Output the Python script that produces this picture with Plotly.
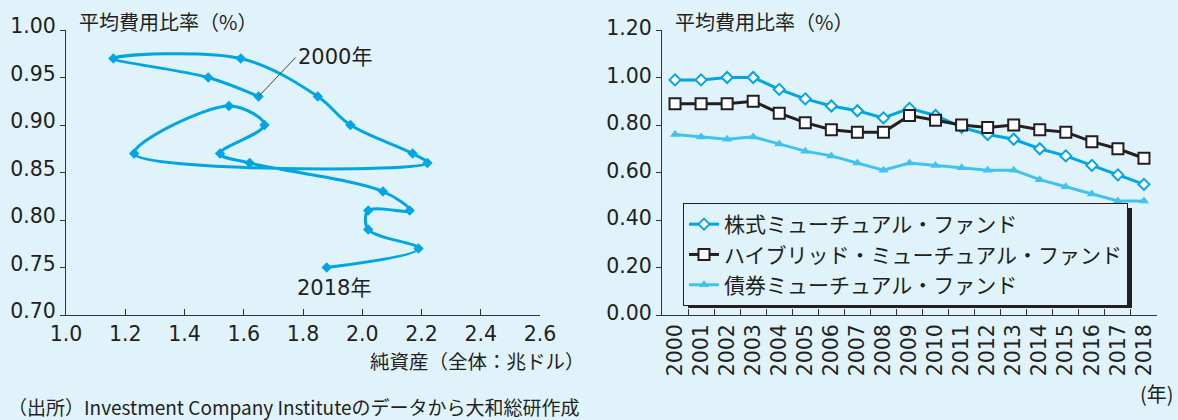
import plotly.graph_objects as go

# ---- data ----
# left: connected scatter (net assets vs average expense ratio), 2000 -> 2018
net_assets = [1.65, 1.48, 1.16, 1.59, 1.85, 1.96, 2.17, 2.22, 1.23, 1.55,
              1.67, 1.52, 1.62, 2.07, 2.16, 2.02, 2.02, 2.19, 1.88]
expense_left = [0.93, 0.95, 0.97, 0.97, 0.93, 0.90, 0.87, 0.86, 0.87, 0.92,
                0.90, 0.87, 0.86, 0.83, 0.81, 0.81, 0.79, 0.77, 0.75]

# right: time series
years = ["2000", "2001", "2002", "2003", "2004", "2005", "2006", "2007", "2008", "2009",
         "2010", "2011", "2012", "2013", "2014", "2015", "2016", "2017", "2018"]
equity = [0.99, 0.99, 1.00, 1.00, 0.95, 0.91, 0.88, 0.86, 0.83, 0.87,
          0.84, 0.79, 0.76, 0.74, 0.70, 0.67, 0.63, 0.59, 0.55]
hybrid = [0.89, 0.89, 0.89, 0.90, 0.85, 0.81, 0.78, 0.77, 0.77, 0.84,
          0.82, 0.80, 0.79, 0.80, 0.78, 0.77, 0.73, 0.70, 0.66]
bond = [0.76, 0.75, 0.74, 0.75, 0.72, 0.69, 0.67, 0.64, 0.61, 0.64,
        0.63, 0.62, 0.61, 0.61, 0.57, 0.54, 0.51, 0.48, 0.48]

names = ["株式ミューチュアル・ファンド", "ハイブリッド・ミューチュアル・ファンド", "債券ミューチュアル・ファンド"]
left_ticks_x = [1.0, 1.2, 1.4, 1.6, 1.8, 2.0, 2.2, 2.4, 2.6]

BG = "#e0f3fb"
TXT = "#231f20"
AX = "#333333"
BLUE = "#00a6e4"
LBLUE = "#40c3f0"
FONT = "Noto Sans CJK JP"
NUMFONT = "DejaVu Sans, Noto Sans CJK JP"
W, H = 1178, 420

fig = go.Figure()

fig.add_trace(go.Scatter(
    x=net_assets, y=expense_left, mode="lines+markers",
    line=dict(color=BLUE, width=3, shape="spline", smoothing=1.0),
    marker=dict(symbol="diamond", size=8, color=BLUE),
    xaxis="x", yaxis="y", showlegend=False, hoverinfo="x+y"))

fig.add_trace(go.Scatter(
    x=years, y=equity, mode="lines+markers", name=names[0],
    line=dict(color=BLUE, width=3),
    marker=dict(symbol="diamond", size=8.5, color="white", line=dict(color=BLUE, width=2)),
    xaxis="x2", yaxis="y2"))
fig.add_trace(go.Scatter(
    x=years, y=hybrid, mode="lines+markers", name=names[1],
    line=dict(color=TXT, width=3),
    marker=dict(symbol="square", size=11, color="white", line=dict(color=TXT, width=2)),
    xaxis="x2", yaxis="y2"))
fig.add_trace(go.Scatter(
    x=years, y=bond, mode="lines+markers", name=names[2],
    line=dict(color=LBLUE, width=3),
    marker=dict(symbol="triangle-up", size=9, color=LBLUE),
    xaxis="x2", yaxis="y2"))

ydom = [1 - 315 / H, 1 - 30 / H]
common_axis = dict(showgrid=False, zeroline=False, showline=True, linecolor=AX, linewidth=1,
                   tickcolor=AX, automargin=False,
                   tickfont=dict(size=20.5, color=TXT, family=NUMFONT))

fig.update_layout(
    width=W, height=H, autosize=False,
    margin=dict(l=0, r=0, t=0, b=0, autoexpand=False),
    paper_bgcolor=BG, plot_bgcolor=BG,
    font=dict(family=FONT, color=TXT),
    xaxis=dict(domain=[66 / W, 540 / W], range=[1.0, 2.6], tickvals=left_ticks_x,
               tickformat=".1f", ticks="inside", ticklen=6, anchor="y", **common_axis),
    yaxis=dict(domain=ydom, range=[0.70, 1.00], dtick=0.05, tickformat=".2f",
               ticks="outside", ticklen=5, anchor="x", ticklabelshift=-4, **common_axis),
    xaxis2=dict(domain=[662 / W, 1157 / W], type="category", range=[-0.5, 18.5],
                tickmode="linear", tick0=0, dtick=1,
                tickson="boundaries", ticks="inside", ticklen=6, tickangle=-90,
                anchor="y2", **common_axis),
    yaxis2=dict(domain=ydom, range=[0, 1.2], dtick=0.2, tickformat=".2f",
                ticks="outside", ticklen=5, anchor="x2", ticklabelshift=-2, **common_axis),
    legend=dict(x=683 / W, y=1 - 203 / H, xanchor="left", yanchor="top",
                bgcolor=BG, bordercolor=TXT, borderwidth=1,
                font=dict(size=21, color=TXT, family=FONT),
                traceorder="normal", itemwidth=30),
    showlegend=True,
)

# legend drop shadow
fig.add_shape(type="rect", xref="paper", yref="paper",
              x0=688 / W, x1=1132 / W, y0=1 - 308 / H, y1=1 - 208 / H,
              fillcolor=TXT, line=dict(width=0), layer="above")

ann = [
    dict(text="平均費用比率（%）", x=77 / W, y=1 - 21 / H, xanchor="left", yanchor="middle",
         font=dict(size=20)),
    dict(text="平均費用比率（%）", x=673 / W, y=1 - 21 / H, xanchor="left", yanchor="middle",
         font=dict(size=20)),
    dict(text="純資産（全体：兆ドル）", x=587 / W, y=1 - 360 / H, xanchor="right", yanchor="middle",
         font=dict(size=19.5)),
    dict(text="(年)", x=1176 / W, y=1 - 393 / H, xanchor="right", yanchor="middle",
         font=dict(size=20)),
    dict(text="（出所）Investment Company Instituteのデータから大和総研作成", x=6 / W, y=1 - 406 / H,
         xanchor="left", yanchor="middle", font=dict(size=19)),
]
for a in ann:
    a.update(xref="paper", yref="paper", showarrow=False)
    a["font"].update(family=FONT, color=TXT)
    fig.add_annotation(**a)

fig.add_annotation(x=net_assets[0], y=expense_left[0], xref="x", yref="y",
                   text=years[0] + "年", showarrow=True, arrowhead=0, arrowwidth=1,
                   arrowcolor="#444444", ax=37, ay=-39, xanchor="left", yanchor="middle",
                   font=dict(size=21, color=TXT, family=NUMFONT))
fig.add_annotation(x=net_assets[-1], y=expense_left[-1], xref="x", yref="y",
                   text=years[-1] + "年", showarrow=False, xanchor="center", yanchor="middle",
                   xshift=7, yshift=-20, font=dict(size=21, color=TXT, family=NUMFONT))

fig.write_html("out.html")
